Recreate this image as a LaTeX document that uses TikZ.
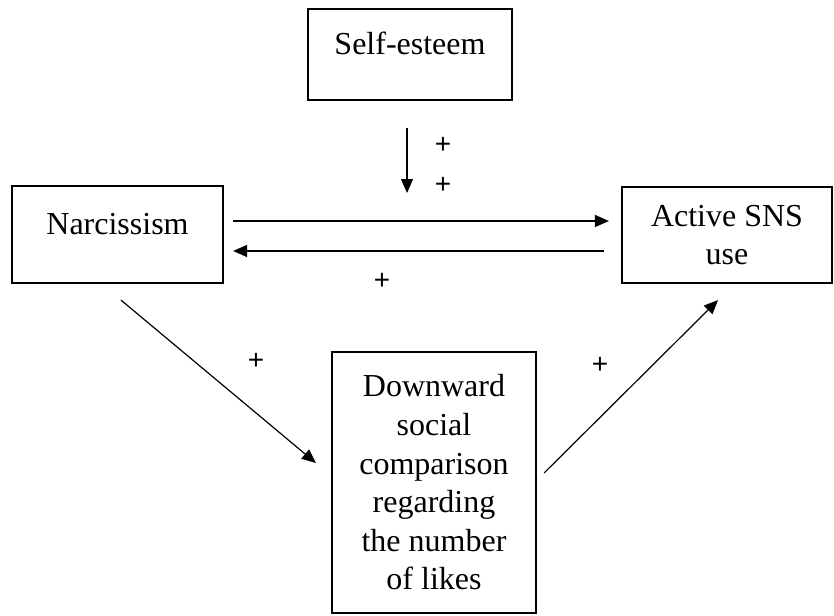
\documentclass[tikz,border=0pt]{standalone}
\usepackage{fontspec}
\setmainfont{Liberation Serif}
\newfontfamily\plusfont{Liberation Sans}
\usetikzlibrary{arrows.meta,calc}
\begin{document}
\begin{tikzpicture}[x=1pt,y=-1pt,
  box/.style={draw,line width=2.2pt,rectangle,inner sep=0pt,align=center,
    font=\fontsize{32}{38.6}\selectfont},
  arr/.style={line width=1.2pt,-{Triangle[length=14pt,width=12pt]}},
  plus/.style={font=\plusfont\fontsize{28}{30}\selectfont,inner sep=0pt}]
\useasboundingbox (0,0) rectangle (834,615);
\node[box,minimum width=204pt,minimum height=91pt,text height=12pt,text depth=12pt] (se) at (410,54.5) {Self-esteem};
\node[box,minimum width=211pt,minimum height=97pt,text height=12pt,text depth=12pt] (narc) at (117.5,234.5) {Narcissism};
\node[box,minimum width=210pt,minimum height=96pt] (sns) at (727,235) {Active SNS\\use};
\node[box,minimum width=204pt,minimum height=261pt] (dsc) at (434,482.5) {Downward\\social\\comparison\\regarding\\the number\\of likes};
\coordinate (vtop) at (407,128);
\coordinate (vbot) at (407,193);
\draw[arr] (vtop) -- (vbot);
\draw[arr] ([shift={(9,-13.5)}]narc.east) -- ([shift={(-12,-14)}]sns.west);
\draw[arr] ([shift={(-17,16)}]sns.west) -- ([shift={(9,16.5)}]narc.east);
\draw[arr] ([shift={(3.5,16)}]narc.south) -- ([shift={(-15,-19.5)}]dsc.west);
\draw[arr] ([shift={(7,-9.5)}]dsc.east) -- ([shift={(-9,16)}]sns.south);
\node[plus] (p1) at (443,145) {+};
\node[plus] (p2) at (443,185) {+};
\node[plus] (p3) at (382,281) {+};
\node[plus] (p4) at (256,361) {+};
\node[plus] (p5) at (600,365) {+};
\end{tikzpicture}
\end{document}
